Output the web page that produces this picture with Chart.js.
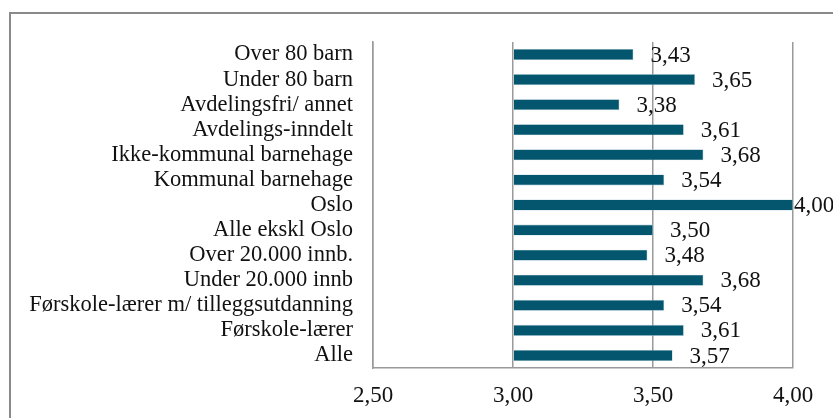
<!DOCTYPE html>
<html>
<head>
<meta charset="utf-8">
<script src="https://cdn.jsdelivr.net/npm/chart.js@4/dist/chart.umd.min.js"></script>
<style>
  html, body { margin: 0; padding: 0; background: #fff; overflow: hidden; }
  #wrap { position: relative; width: 833px; height: 418px; }
  #frame { position: absolute; left: 9px; top: 12px; width: 900px; height: 500px; border: 2px solid #8a8a8a; box-sizing: border-box; }
  canvas { position: absolute; left: 0; top: 0; }
</style>
</head>
<body>
<div id="wrap">
  <div id="frame"></div>
  <canvas id="c" width="833" height="418"></canvas>
</div>
<script>
// Categories, top to bottom
const categories = [
  'Over 80 barn',
  'Under 80 barn',
  'Avdelingsfri/ annet',
  'Avdelings-inndelt',
  'Ikke-kommunal barnehage',
  'Kommunal barnehage',
  'Oslo',
  'Alle ekskl Oslo',
  'Over 20.000 innb.',
  'Under 20.000 innb',
  'Førskole-lærer m/ tilleggsutdanning',
  'Førskole-lærer',
  'Alle'
];
// Mean scores
const values = [3.43, 3.65, 3.38, 3.61, 3.68, 3.54, 4.00, 3.50, 3.48, 3.68, 3.54, 3.61, 3.57];
// Value axis ticks
const axisTicks = [2.5, 3.0, 3.5, 4.0];

const FONT = 'Liberation Serif';
const NUM_SIZE = 23;
const CAT_SIZE = 22.5;
const fmt = v => v.toFixed(2).replace('.', ',');

// Value labels after each bar end
const valueLabels = {
  id: 'valueLabels',
  afterDatasetsDraw(chart) {
    const ctx = chart.ctx;
    const meta = chart.getDatasetMeta(0);
    const xs = chart.scales.x;
    ctx.save();
    ctx.font = NUM_SIZE + 'px "' + FONT + '"';
    ctx.fillStyle = '#111';
    ctx.textBaseline = 'middle';
    ctx.textAlign = 'left';
    meta.data.forEach((bar, i) => {
      const v = values[i];
      const off = v >= xs.max ? 1 : 17;
      ctx.fillText(fmt(v), bar.x + off, bar.y + 1);
    });
    ctx.restore();
  }
};

new Chart(document.getElementById('c'), {
  type: 'bar',
  data: {
    labels: categories,
    datasets: [{
      data: values,
      base: 3,
      backgroundColor: '#03566e',
      borderColor: '#9fc3cf',
      borderWidth: 0.6,
      categoryPercentage: 1,
      barPercentage: 0.44
    }]
  },
  options: {
    indexAxis: 'y',
    responsive: false,
    animation: false,
    devicePixelRatio: 1,
    layout: { padding: { left: 0, top: 42, right: 40, bottom: 0 } },
    plugins: { legend: { display: false }, tooltip: { enabled: false } },
    scales: {
      x: {
        min: 2.5,
        max: 4.0,
        afterBuildTicks: s => { s.ticks = axisTicks.map(v => ({ value: v })); },
        afterFit: s => { s.height = 50; },
        grid: { color: '#9a9a9a', lineWidth: 1.5, drawTicks: false },
        border: { color: '#9a9a9a', width: 1.5 },
        ticks: {
          padding: 14,
          color: '#111',
          maxRotation: 0,
          font: { family: FONT, size: NUM_SIZE },
          callback: v => fmt(v)
        }
      },
      y: {
        afterFit: s => { s.width = 373; },
        grid: { display: false, drawTicks: false },
        border: { color: '#9a9a9a', width: 1.5 },
        ticks: {
          autoSkip: false,
          padding: 20,
          color: '#111',
          font: { family: FONT, size: CAT_SIZE }
        }
      }
    }
  },
  plugins: [valueLabels]
});
</script>
</body>
</html>
